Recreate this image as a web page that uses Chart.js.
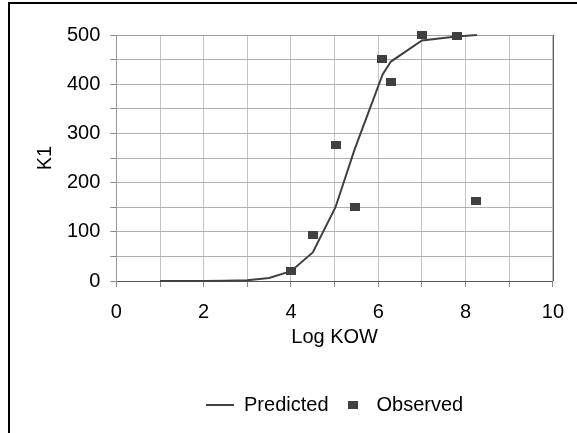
<!DOCTYPE html>
<html><head><meta charset="utf-8">
<script src="https://cdn.jsdelivr.net/npm/chart.js@4"></script>
<style>
html,body{margin:0;padding:0;background:#fff;}
#wrap{position:relative;width:577px;height:433px;overflow:hidden;background:#fff;}
#frame{position:absolute;left:8px;top:2px;width:700px;height:600px;border-left:2px solid #000;border-top:2px solid #000;}
canvas{position:absolute;left:0;top:0;}
</style></head><body>
<div id="wrap"><div id="frame"></div><canvas id="c" width="577" height="433"></canvas></div>
<script>
// ---- data ----
const seriesNames = ['Predicted', 'Observed'];
const predictedX = [1.0, 2.0, 2.5, 3.0, 3.5, 4.0, 4.5, 5.02, 5.46, 6.1, 6.29, 7.0, 7.79, 8.26];
const predictedY = [0, 0, 0.3, 1.5, 6, 20, 58, 150, 268, 420, 446, 489, 497, 500];
const observedX = [4.0, 4.5, 5.03, 5.47, 6.09, 6.29, 7.0, 7.8, 8.25];
const observedY = [21, 93, 276, 151, 451, 404, 500, 497, 162];
const xTickLabels = ['0', '2', '4', '6', '8', '10'];
const yTickLabels = ['0', '100', '200', '300', '400', '500'];
const xTitle = 'Log KOW';
const yTitle = 'K1';

const FONT = {family: "'Liberation Sans', Arial, sans-serif", size: 20, lineHeight: 1.2};
Chart.defaults.color = '#000';

const marker = document.createElement('canvas');
marker.width = 10; marker.height = 8;
(function(){ const m = marker.getContext('2d'); m.fillStyle = '#404040'; m.fillRect(0,0,10,8); })();

const frameLines = {
  id: 'frameLines',
  beforeDatasetsDraw(chart) {
    const {ctx, chartArea: a} = chart;
    ctx.save();
    ctx.lineWidth = 1;
    ctx.strokeStyle = '#a0a0a0';
    ctx.beginPath(); ctx.moveTo(a.left, a.top + 0.5); ctx.lineTo(a.right, a.top + 0.5); ctx.stroke();
    ctx.strokeStyle = '#5a5a5a';
    ctx.beginPath(); ctx.moveTo(Math.round(a.right) + 0.5, a.top); ctx.lineTo(Math.round(a.right) + 0.5, a.bottom); ctx.stroke();
    ctx.restore();
  },
  beforeDraw(chart) {
    const l = chart.legend;
    if (l) { l.left = chart.chartArea.left; l.right = chart.chartArea.right; }
  }
};

new Chart(document.getElementById('c'), {
  type: 'scatter',
  data: {
    datasets: [
      {
        label: seriesNames[0],
        data: predictedX.map((x, i) => ({x, y: predictedY[i]})),
        showLine: true, borderColor: '#404040', backgroundColor: '#404040', borderWidth: 2,
        pointRadius: 0, pointHoverRadius: 0, pointStyle: 'line', tension: 0, order: 2, clip: false
      },
      {
        label: seriesNames[1],
        data: observedX.map((x, i) => ({x, y: observedY[i]})),
        showLine: false, pointStyle: marker, pointRadius: 5, backgroundColor: '#404040', borderColor: '#404040',
        order: 1, clip: false
      }
    ]
  },
  options: {
    responsive: false, animation: false, devicePixelRatio: 1,
    layout: {padding: {left: 20, right: 22, top: 35, bottom: 8}},
    plugins: {
      tooltip: {enabled: false},
      legend: {
        position: 'bottom',
        labels: {
          font: FONT, color: '#000', usePointStyle: true, pointStyleWidth: 28, padding: 10,
          sort: (a, b) => a.datasetIndex - b.datasetIndex
        }
      }
    },
    scales: {
      x: {
        type: 'linear', min: 0, max: 10,
        ticks: {stepSize: 1, font: FONT, color: '#000', padding: 13, maxRotation: 0, autoSkip: false,
          callback: v => xTickLabels.includes(String(v)) ? String(v) : ''},
        grid: {color: '#c4c4c4', lineWidth: 1, tickLength: 6, tickColor: '#8a8a8a'},
        border: {display: true, color: '#595959', width: 1},
        title: {display: true, text: xTitle, font: FONT, color: '#000', padding: {top: -12, bottom: 36}}
      },
      y: {
        type: 'linear', min: 0, max: 500,
        ticks: {stepSize: 50, font: FONT, color: '#000', padding: 10, autoSkip: false,
          callback: v => yTickLabels.includes(String(v)) ? String(v) : ''},
        grid: {color: '#b0b0b0', lineWidth: 1, tickLength: 6, tickColor: '#8a8a8a'},
        border: {display: true, color: '#9a9a9a', width: 1},
        title: {display: true, text: yTitle, font: FONT, color: '#000', padding: {top: 13, bottom: 0}}
      }
    }
  },
  plugins: [frameLines]
});
</script>
</body></html>
